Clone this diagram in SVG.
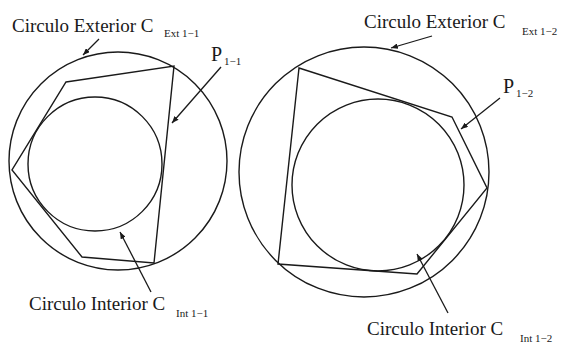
<svg xmlns="http://www.w3.org/2000/svg" width="564" height="343" viewBox="0 0 564 343">
<style>
.ln{fill:none;stroke:#1a1a1a;stroke-width:1.4}
.lb{font-family:"Liberation Serif","Times New Roman",serif;fill:#1a1a1a}
.big{font-size:19px}
.pp{font-size:20px}
.sm{font-size:11px}
.ar{fill:none;stroke:#1a1a1a;stroke-width:1.3;marker-end:url(#ah)}
</style>
<defs>
<marker id="ah" viewBox="0 0 10 8" refX="10" refY="4" markerWidth="7" markerHeight="5.5" markerUnits="userSpaceOnUse" orient="auto">
<path d="M0,0 L10,4 L0,8 Z" fill="#1a1a1a"/>
</marker>
</defs>
<rect width="564" height="343" fill="#fff"/>
<g id="ext1">
<circle class="ln" cx="118" cy="161" r="109"/>
</g>
<g id="int1">
<circle class="ln" cx="95" cy="164" r="67"/>
</g>
<g id="poly1">
<polygon class="ln" points="66,82 174,66 154,263 82,257 12,170"/>
</g>
<g id="ext2">
<circle class="ln" cx="364" cy="172" r="125"/>
</g>
<g id="int2">
<circle class="ln" cx="378" cy="185" r="86"/>
</g>
<g id="poly2">
<polygon class="ln" points="299,68 452,117 487,188 417,274 278,264"/>
</g>
<g id="connectors">
<line class="ar" x1="99" y1="39" x2="83" y2="55"/>
<line class="ar" x1="221" y1="67" x2="172" y2="123"/>
<line class="ar" x1="151" y1="292" x2="120" y2="232"/>
<line class="ar" x1="432" y1="36" x2="391" y2="48"/>
<line class="ar" x1="500" y1="98" x2="461" y2="129"/>
<line class="ar" x1="448" y1="313" x2="417" y2="254"/>
</g>
<g id="labels">
<text class="lb big" x="12" y="32">Circulo Exterior C</text>
<text class="lb sm" x="164" y="37">Ext 1−1</text>
<text class="lb pp" x="211" y="61">P</text>
<text class="lb sm" x="224" y="65">1−1</text>
<text class="lb big" x="29" y="310">Circulo Interior C</text>
<text class="lb sm" x="176" y="317">Int 1−1</text>
<text class="lb big" x="364" y="28">Circulo Exterior C</text>
<text class="lb sm" x="522" y="35">Ext 1−2</text>
<text class="lb pp" x="503" y="93">P</text>
<text class="lb sm" x="516" y="97">1−2</text>
<text class="lb big" x="367" y="335">Circulo Interior C</text>
<text class="lb sm" x="520" y="342">Int 1−2</text>
</g>
</svg>
